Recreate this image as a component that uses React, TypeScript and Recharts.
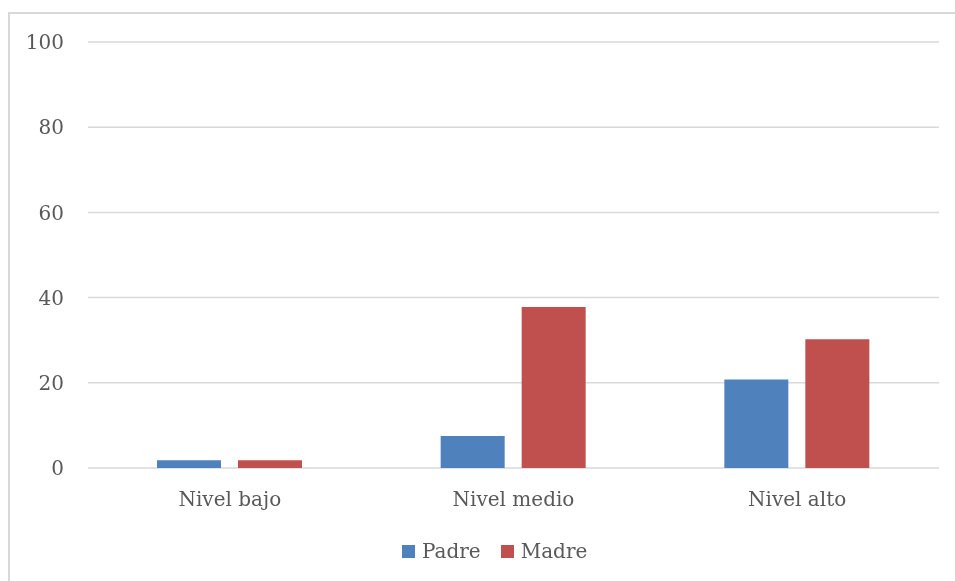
import { BarChart, Bar, XAxis, YAxis, CartesianGrid, Legend } from "recharts";

const CATEGORIES = ["Nivel bajo", "Nivel medio", "Nivel alto"];
const PADRE = [1.8, 7.5, 20.8];
const MADRE = [1.8, 37.8, 30.2];
const Y_TICKS = [0, 20, 40, 60, 80, 100];

const SERIES = [
    { key: "padre", name: "Padre", color: "#4f81bd" },
    { key: "madre", name: "Madre", color: "#c0504d" },
];

const FONT = "'DejaVu Serif', serif";
const TEXT = "#595959";

const data = CATEGORIES.map((c, i) => ({ name: c, padre: PADRE[i], madre: MADRE[i] }));

function LegendContent() {
    return (
        <div style={{ display: "flex", alignItems: "center", height: 24, fontFamily: FONT, fontSize: 20, color: TEXT }}>
            {SERIES.map((s, i) => (
                <div key={s.key} style={{ display: "flex", alignItems: "center", marginLeft: i ? 20 : 0 }}>
                    <span style={{ width: 13, height: 13, background: s.color, marginRight: 7, display: "inline-block" }} />
                    <span>{s.name}</span>
                </div>
            ))}
        </div>
    );
}

export default function App() {
    return (
        <div
            style={{
                position: "fixed",
                left: 8,
                top: 12,
                width: 970,
                height: 590,
                overflow: "hidden",
                borderTop: "2px solid #d9d9d9",
                borderLeft: "2px solid #d9d9d9",
            }}
        >
            <BarChart
                width={945}
                height={567}
                data={data}
                margin={{ top: 28, right: 16, left: 0, bottom: 49 }}
                barSize={64}
                barGap={17}
            >
                <CartesianGrid vertical={false} stroke="#d9d9d9" strokeWidth={1.5} />
                <XAxis
                    dataKey="name"
                    axisLine={false}
                    tickLine={false}
                    tickSize={0}
                    tickMargin={24}
                    height={40}
                    tick={{ fontSize: 20, fill: TEXT, fontFamily: FONT }}
                />
                <YAxis
                    domain={[0, 100]}
                    ticks={Y_TICKS}
                    axisLine={false}
                    tickLine={false}
                    tickSize={0}
                    tickMargin={24}
                    width={78}
                    tick={{ fontSize: 20, fill: TEXT, fontFamily: FONT }}
                />
                <Legend
                    verticalAlign="bottom"
                    content={() => <LegendContent />}
                    wrapperStyle={{ bottom: 18, left: 392, width: 200, height: 24 }}
                />
                {SERIES.map((s) => (
                    <Bar key={s.key} dataKey={s.key} name={s.name} fill={s.color} isAnimationActive={false} />
                ))}
            </BarChart>
        </div>
    );
}
